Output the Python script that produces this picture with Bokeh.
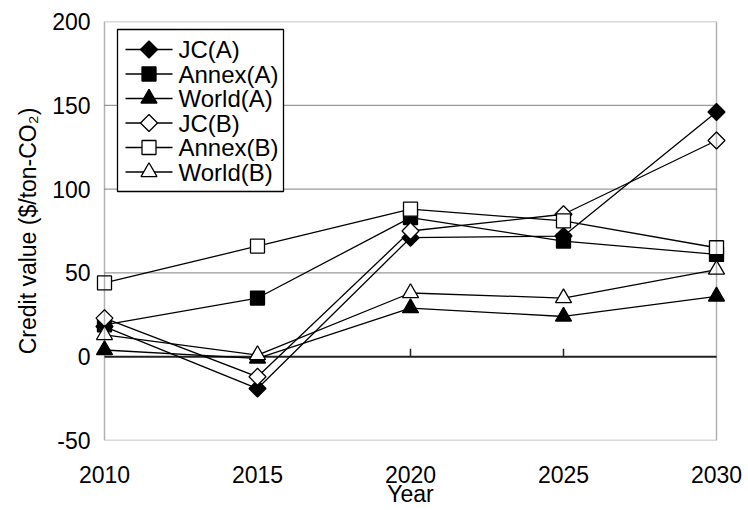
import math
from bokeh.plotting import figure
from bokeh.models import Range1d, FixedTicker, BoxAnnotation
from bokeh.core.properties import value
from bokeh.embed import file_html
from bokeh.resources import INLINE

# ---- data ----
years = [2010, 2015, 2020, 2025, 2030]
jc_a = [18, -19, 71, 72, 146]
annex_a = [19, 35, 83, 69, 61]
world_a = [4, -1, 29, 24, 36]
jc_b = [23, -12, 75, 85, 129]
annex_b = [44, 66, 88, 81, 65]
world_b = [13, 1, 38, 35, 52]
y_ticks = [-50, 0, 50, 100, 150, 200]
grid_values = [50, 100, 150]
x_label = "Year"
y_label = "Credit value ($/ton-CO\u2082)"
names = ["JC(A)", "Annex(A)", "World(A)", "JC(B)", "Annex(B)", "World(B)"]

# ---- layout (pixels) ----
W, H = 748, 510
BOX_L, BOX_T = 104, 21         # plot box top-left inside the figure
BOX_W, BOX_H = 612, 419
PAD = 12                       # extra frame room left/right so edge markers are not clipped
FONT = "Liberation Sans"

xspan = years[-1] - years[0]
yspan = y_ticks[-1] - y_ticks[0]
xpad = PAD * xspan / BOX_W
ypx = yspan / BOX_H


def px2x(px):
    return years[0] + (px - BOX_L) * xspan / BOX_W


def px2y(py):
    return y_ticks[-1] - (py - BOX_T) * yspan / BOX_H


p = figure(width=W, height=H, output_backend="svg", toolbar_location=None,
           x_range=Range1d(years[0] - xpad, years[-1] + xpad),
           y_range=Range1d(y_ticks[0], y_ticks[-1]),
           min_border_left=BOX_L - PAD, min_border_right=W - BOX_L - BOX_W - PAD,
           min_border_top=BOX_T, min_border_bottom=H - BOX_T - BOX_H)
p.title.visible = False
p.outline_line_color = None
p.xgrid.visible = False
p.ygrid.visible = False
p.background_fill_color = "white"
p.border_fill_color = "white"

# x axis
xa = p.xaxis[0]
xa.ticker = FixedTicker(ticks=years)
xa.axis_line_color = None
xa.major_tick_line_color = None
xa.minor_tick_line_color = None
xa.major_tick_in = 0
xa.major_tick_out = 0
xa.major_label_standoff = 25
xa.major_label_text_font = FONT
xa.major_label_text_font_size = "23px"
xa.major_label_text_color = "black"
xa.axis_label = x_label
xa.axis_label_standoff = -5
xa.axis_label_text_font = FONT
xa.axis_label_text_font_size = "23px"
xa.axis_label_text_font_style = "normal"
xa.axis_label_text_color = "black"

# y axis
ya = p.yaxis[0]
ya.ticker = FixedTicker(ticks=y_ticks)
ya.major_label_overrides = {t: str(t) for t in y_ticks}
ya.axis_line_color = None
ya.major_tick_line_color = None
ya.minor_tick_line_color = None
ya.major_tick_in = 0
ya.major_tick_out = 0
ya.major_label_standoff = 2
ya.major_label_text_font = FONT
ya.major_label_text_font_size = "23px"
ya.major_label_text_color = "black"
ya.axis_label = y_label
ya.axis_label_standoff = 8
ya.axis_label_text_font = FONT
ya.axis_label_text_font_size = "23px"
ya.axis_label_text_font_style = "normal"
ya.axis_label_text_color = "black"

# gridlines, zero line and ticks
n = len(grid_values)
p.segment(x0=[years[0]] * n, y0=grid_values, x1=[years[-1]] * n, y1=grid_values,
          line_color="#808080", line_width=1)
p.segment(x0=[years[0]], y0=[0], x1=[years[-1]], y1=[0], line_color="#222222", line_width=2)
inner = years[1:-1]
p.segment(x0=inner, y0=[0] * len(inner), x1=inner, y1=[8 * ypx] * len(inner),
          line_color="#222222", line_width=1.5)

# series
specs = [
    (jc_a, "square", math.pi / 4, 12, "black"),
    (annex_a, "square", 0, 14, "black"),
    (world_a, "triangle", 0, 16, "black"),
    (jc_b, "square", math.pi / 4, 12, "white"),
    (annex_b, "square", 0, 14, "white"),
    (world_b, "triangle", 0, 16, "white"),
]
for vals, marker, ang, size, fill in specs:
    p.line(years, vals, line_color="black", line_width=1.3)
    p.scatter(years, vals, marker=marker, angle=ang, size=size,
              fill_color=fill, line_color="black", line_width=1.3)

# frame box
p.add_layout(BoxAnnotation(left=years[0], right=years[-1], bottom=y_ticks[0], top=y_ticks[-1],
                           fill_alpha=0, line_color="black", line_width=1.5))

# legend (drawn inside the plot box)
LG_L, LG_T, LG_R, LG_B = 117, 29, 283, 191
ROW0, ROW_STEP = 49, 24.5
LINE_X0, LINE_X1, TEXT_X = 125, 172, 178
p.quad(left=[px2x(LG_L)], right=[px2x(LG_R)], top=[px2y(LG_T)], bottom=[px2y(LG_B)],
       fill_color="white", line_color="black", line_width=1.3)
rows_y = [px2y(ROW0 + i * ROW_STEP) for i in range(len(names))]
p.segment(x0=[px2x(LINE_X0)] * len(names), y0=rows_y, x1=[px2x(LINE_X1)] * len(names), y1=rows_y,
          line_color="black", line_width=1.3)
mx = px2x((LINE_X0 + LINE_X1) / 2)
for (vals, marker, ang, size, fill), ry in zip(specs, rows_y):
    p.scatter([mx], [ry], marker=marker, angle=ang, size=size,
              fill_color=fill, line_color="black", line_width=1.3)
p.text(x=[px2x(TEXT_X)] * len(names), y=rows_y, text=names,
       text_font=value(FONT), text_font_size="24px", text_baseline="middle",
       text_color="black")

open("out.html", "w").write(file_html(p, INLINE))
